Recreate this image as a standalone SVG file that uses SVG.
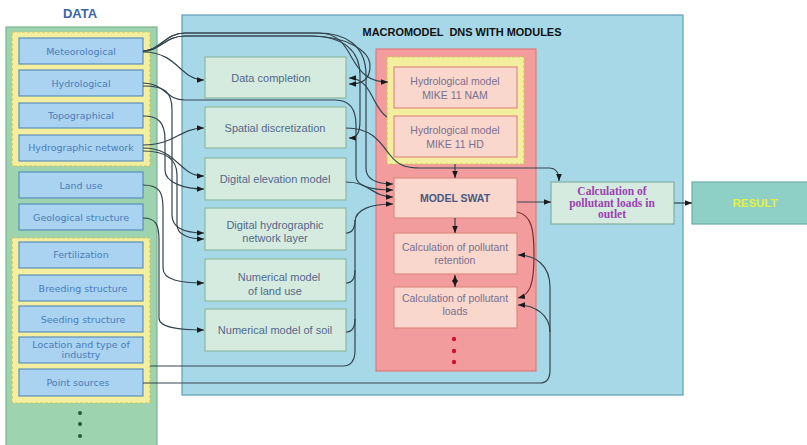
<svg xmlns="http://www.w3.org/2000/svg" width="807" height="445" viewBox="0 0 807 445">
<defs>
<marker id="ah" viewBox="0 0 10 10" refX="10" refY="5" markerWidth="7" markerHeight="7" markerUnits="userSpaceOnUse" orient="auto-start-reverse"><path d="M0,1 L10,5 L0,9 z" fill="#1a1a1a"/></marker>
<style>
.dbox{fill:#a9d3f1;stroke:#5f8fb8;stroke-width:1.2}
.dtxt{font-family:"DejaVu Sans",sans-serif;font-size:9.5px;fill:#4c7cb8;text-anchor:middle}
.ygrp{fill:#f4ef9e;stroke:#cfc55a;stroke-width:1.2;stroke-dasharray:3 2}
.mbox{fill:#d6ebe0;stroke:#8bb99e;stroke-width:1.2}
.mtxt{font-family:"Liberation Sans",Arial,sans-serif;font-size:11px;fill:#52688a;text-anchor:middle}
.pbox{fill:#f9d7cd;stroke:#df8a80;stroke-width:1.2}
.ptxt{font-family:"Liberation Sans",Arial,sans-serif;font-size:10.5px;fill:#7a6f8e;text-anchor:middle}
.con{fill:none;stroke:#34444e;stroke-width:1.2}
.arr{marker-end:url(#ah)}
</style>
</defs>
<rect width="807" height="445" fill="#ffffff"/>
<!-- DATA panel -->
<g id="data-panel">
<rect x="6" y="27" width="151" height="425" fill="#9dd3ae" stroke="#7cb48e" stroke-width="1.2"/>
<text x="80" y="18" font-family="Liberation Sans,Arial,sans-serif" font-size="13px" font-weight="bold" fill="#3d66a8" text-anchor="middle">DATA</text>
<rect class="ygrp" x="12" y="32" width="138" height="134"/>
<rect class="ygrp" x="12" y="238" width="138" height="165"/>
<circle cx="80" cy="413" r="2" fill="#1f5a3a"/>
<circle cx="80" cy="424" r="2" fill="#1f5a3a"/>
<circle cx="80" cy="436" r="2" fill="#1f5a3a"/>
</g>
<g id="meteorological"><rect class="dbox" x="19" y="38" width="124" height="26"/><text class="dtxt" x="81" y="55">Meteorological</text></g>
<g id="hydrological"><rect class="dbox" x="19" y="70" width="124" height="26"/><text class="dtxt" x="81" y="87">Hydrological</text></g>
<g id="topographical"><rect class="dbox" x="19" y="103" width="124" height="25"/><text class="dtxt" x="81" y="119">Topographical</text></g>
<g id="hydrographic-network"><rect class="dbox" x="19" y="135" width="124" height="26"/><text class="dtxt" x="81" y="151">Hydrographic network</text></g>
<g id="land-use"><rect class="dbox" x="19" y="172" width="124" height="26"/><text class="dtxt" x="81" y="189">Land use</text></g>
<g id="geological-structure"><rect class="dbox" x="19" y="204" width="124" height="26"/><text class="dtxt" x="81" y="221">Geological structure</text></g>
<g id="fertilization"><rect class="dbox" x="19" y="242" width="124" height="26"/><text class="dtxt" x="81" y="258">Fertilization</text></g>
<g id="breeding-structure"><rect class="dbox" x="19" y="275" width="124" height="26"/><text class="dtxt" x="83" y="292">Breeding structure</text></g>
<g id="seeding-structure"><rect class="dbox" x="19" y="306" width="124" height="26"/><text class="dtxt" x="83" y="323">Seeding structure</text></g>
<g id="location-industry"><rect class="dbox" x="19" y="337" width="124" height="26"/><text class="dtxt" x="81" y="348">Location and type of</text><text class="dtxt" x="81" y="358">industry</text></g>
<g id="point-sources"><rect class="dbox" x="19" y="369" width="124" height="27"/><text class="dtxt" x="78" y="386">Point sources</text></g>
<!-- Macromodel panel -->
<g id="macromodel-panel">
<rect x="182" y="15" width="501" height="380" fill="#a7d8e7" stroke="#5e9fb5" stroke-width="1.2"/>
<text x="462" y="36" font-family="Liberation Sans,Arial,sans-serif" font-size="11px" font-weight="bold" fill="#111" text-anchor="middle" xml:space="preserve" textLength="199" lengthAdjust="spacingAndGlyphs">MACROMODEL  DNS WITH MODULES</text>
</g>
<g id="modules-panel">
<rect x="376" y="49" width="160" height="322" fill="#f29c9e" stroke="#e07a7c" stroke-width="1.2"/>
<rect class="ygrp" x="387" y="57" width="137" height="107"/>
<circle cx="454" cy="339" r="2.2" fill="#d0103a"/>
<circle cx="454" cy="351" r="2.2" fill="#d0103a"/>
<circle cx="454" cy="362" r="2.2" fill="#d0103a"/>
</g>
<g id="data-completion"><rect class="mbox" x="205" y="57" width="141" height="41"/><text class="mtxt" x="271" y="82">Data completion</text></g>
<g id="spatial-discretization"><rect class="mbox" x="205" y="107" width="141" height="41"/><text class="mtxt" x="275" y="132">Spatial discretization</text></g>
<g id="digital-elevation-model"><rect class="mbox" x="205" y="158" width="141" height="42"/><text class="mtxt" x="275" y="183">Digital elevation model</text></g>
<g id="digital-hydrographic-layer"><rect class="mbox" x="205" y="208" width="141" height="42"/><text class="mtxt" x="275" y="229">Digital hydrographic</text><text class="mtxt" x="275" y="242">network layer</text></g>
<g id="numerical-land-use"><rect class="mbox" x="205" y="259" width="141" height="42"/><text class="mtxt" x="279" y="281">Numerical model</text><text class="mtxt" x="275" y="295">of land use</text></g>
<g id="numerical-soil"><rect class="mbox" x="205" y="309" width="141" height="42"/><text class="mtxt" x="275" y="334">Numerical model of soil</text></g>
<g id="mike-nam"><rect class="pbox" x="394" y="67" width="123" height="41"/><text class="ptxt" x="455" y="85">Hydrological model</text><text class="ptxt" x="455" y="99">MIKE 11 NAM</text></g>
<g id="mike-hd"><rect class="pbox" x="394" y="116" width="123" height="41"/><text class="ptxt" x="455" y="134">Hydrological model</text><text class="ptxt" x="455" y="148">MIKE 11 HD</text></g>
<g id="model-swat"><rect class="pbox" x="394" y="178" width="123" height="40"/><text x="455" y="202" font-family="Liberation Sans,Arial,sans-serif" font-size="10.5px" font-weight="bold" fill="#4a5880" text-anchor="middle">MODEL SWAT</text></g>
<g id="pollutant-retention"><rect class="pbox" x="394" y="233" width="123" height="41"/><text class="ptxt" x="455" y="251">Calculation of pollutant</text><text class="ptxt" x="455" y="264">retention</text></g>
<g id="pollutant-loads"><rect class="pbox" x="394" y="287" width="123" height="41"/><text class="ptxt" x="455" y="302">Calculation of pollutant</text><text class="ptxt" x="455" y="315">loads</text></g>
<g id="pollutant-loads-outlet"><rect x="551" y="182" width="123" height="42" fill="#d6ebe0" stroke="#7fb0a0" stroke-width="1.2"/>
<g font-family="Liberation Serif,Times New Roman,serif" font-size="11.5px" font-weight="bold" fill="#9b40b0" text-anchor="middle"><text x="612" y="195">Calculation of</text><text x="612" y="206.5">pollutant loads in</text><text x="612" y="218">outlet</text></g></g>
<g id="result"><rect x="692" y="182" width="120" height="42" fill="#8fd0c6" stroke="#6ab0a8" stroke-width="1.2"/><text x="755" y="207" font-family="Liberation Sans,Arial,sans-serif" font-size="11.5px" font-weight="bold" fill="#e4f03e" text-anchor="middle">RESULT</text></g>
<!-- connectors -->
<g id="connectors">
<path class="con arr" d="M143,51 C160,51 165,33 185,33 L318,33 C338,33 345,45 352,58 C360,72 368,82 388,82"/>
<path class="con arr" d="M143,51 C160,51 165,33 185,33 L318,33 C345,33 366,45 366,75 L366,168 C366,180 378,184 393,184"/>
<path class="con arr" d="M143,51 C160,51 165,36 185,36 L310,36 C345,36 370,50 370,66 C370,80 362,84 349,84"/>
<path class="con arr" d="M143,51 C160,51 165,36 185,36 L310,36 C345,36 360,52 360,75 L360,120 C360,133 357,138 349,138"/>
<path class="con arr" d="M143,52 C178,52 180,80 204,80"/>
<path class="con arr" d="M143,83 C165,83 165,100 185,100 L335,100 C350,100 356,110 356,125 L356,176 C356,187 372,190 393,190"/>
<path class="con arr" d="M143,86 C165,86 172,92 172,110 L172,215 C172,228 185,233 204,233"/>
<path class="con arr" d="M143,116 C158,116 165,122 165,140 L165,170 C165,183 185,189 204,189"/>
<path class="con arr" d="M143,145 C175,145 180,128 204,128"/>
<path class="con arr" d="M143,148 C178,148 178,176 204,176"/>
<path class="con arr" d="M143,151 C165,151 177,158 177,175 L177,225 C177,235 190,239 204,239"/>
<path class="con arr" d="M143,185 C160,185 163,193 163,208 L163,268 C163,280 180,283 204,283"/>
<path class="con arr" d="M143,218 C156,218 159,225 159,240 L159,318 C159,328 180,330 204,330"/>
<path class="con arr" d="M346,182 C370,182 372,197 393,197"/>
<path class="con arr" d="M150,366 L343,366 C352,366 355,360 355,350 L355,222 C355,209 372,204 393,204"/>
<path class="con" d="M346,233 C353,233 355,228 355,220"/>
<path class="con" d="M346,283 C353,283 355,278 355,270"/>
<path class="con" d="M346,332 C353,332 355,327 355,319"/>
<path class="con arr" d="M387,117 C372,108 372,78 349,78"/>
<path class="con arr" d="M346,128 C372,128 380,142 390,155 C398,165 405,168 420,168 L549,168 C556,168 559,172 559,181"/>
<path class="con arr" d="M143,383 L540,383 C547,383 550,379 550,370 L550,287 C550,265 535,255 518,255"/>
<path class="con arr" d="M550,332 C550,315 535,305 518,305"/>
<path class="con arr" d="M455,164 L455,178"/>
<path class="con arr" d="M455,218 L455,233"/>
<path class="con" d="M455,275 L455,287" marker-start="url(#ah)" marker-end="url(#ah)"/>
<path fill="none" stroke="#7a2e2e" stroke-width="1.2" marker-end="url(#ah)" d="M517,212 C532,215 534,230 534,255 C534,285 530,295 518,298"/>
<path class="con arr" d="M517,202 L551,202"/>
<path class="con arr" d="M674,203 L692,203"/>
</g>
</svg>
